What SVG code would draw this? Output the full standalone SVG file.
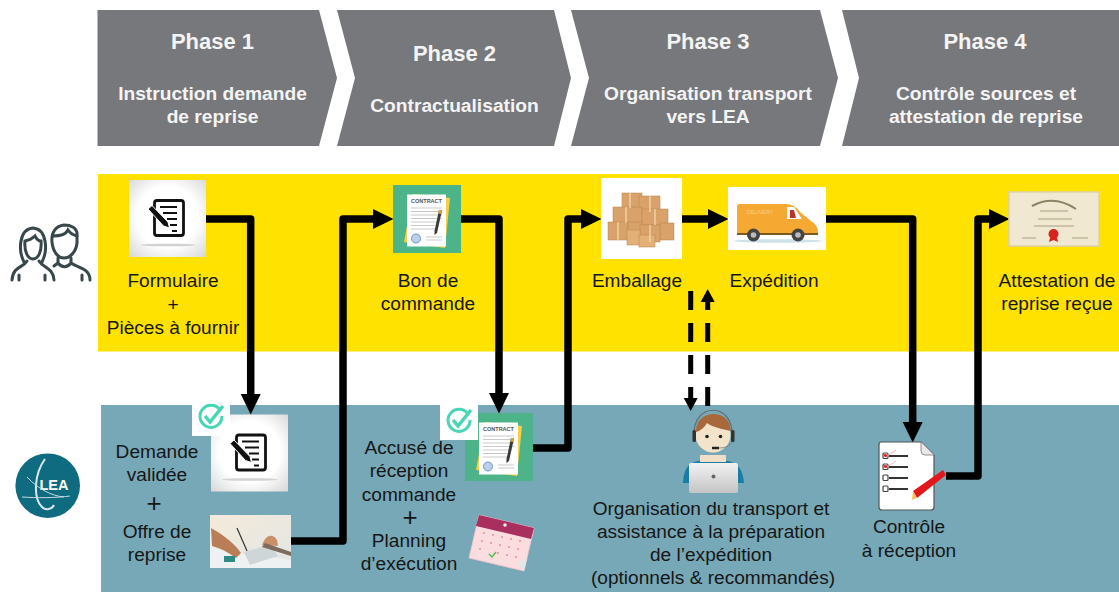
<svg xmlns="http://www.w3.org/2000/svg" width="1119" height="592" viewBox="0 0 1119 592">
<style>
text{font-family:"Liberation Sans",Arial,sans-serif;text-anchor:middle}
.h{font-weight:700;fill:#f4f4f4;font-size:19.2px}
.p{font-weight:700;fill:#f4f4f4;font-size:22px}
.l{fill:#161616;font-size:19.1px}
.big{fill:#161616;font-size:26px}
.c{fill:#77787b}
.wire{fill:none;stroke:#000;stroke-width:7.5;stroke-linejoin:round}
.dash{fill:none;stroke:#000;stroke-width:5;stroke-dasharray:19 13}
</style>
<defs>
<marker id="head" markerUnits="userSpaceOnUse" markerWidth="21" markerHeight="22" refX="0" refY="11" orient="auto"><path d="M0,1 L20.500,11 L0,21 Z" fill="#000"/></marker>
<marker id="headS" markerUnits="userSpaceOnUse" markerWidth="14" markerHeight="16" refX="0" refY="8" orient="auto"><path d="M0,1 L13,8 L0,15 Z" fill="#000"/></marker>
<radialGradient id="paper" cx="50%" cy="48%" r="72%"><stop offset="0.55" stop-color="#fff"/><stop offset="1" stop-color="#d6d6d6"/></radialGradient>
<linearGradient id="lap" x1="0" y1="0" x2="0" y2="1"><stop offset="0" stop-color="#f2f2f2"/><stop offset="1" stop-color="#c4c4c4"/></linearGradient>
<linearGradient id="desk" x1="0" y1="0" x2="1" y2="1"><stop offset="0" stop-color="#f5ead9"/><stop offset="1" stop-color="#e2e6e6"/></linearGradient>
<g id="formIcon">
<rect width="77" height="77" fill="url(#paper)"/>
<rect x="25.500" y="20.500" width="29" height="35" rx="2.500" fill="none" stroke="#111" stroke-width="2.800"/>
<path d="M31,27 H48 M34,33 H48 M38,39 H48 M41,45 H48 M43,51 H48" stroke="#111" stroke-width="2.200"/>
<path d="M19,29 L23,25.500 L39,42 L40.500,48 L34.500,46 Z" fill="#111" stroke="#fff" stroke-width="1"/>
<ellipse cx="39" cy="65" rx="28" ry="1.300" fill="#d2d2d2"/>
</g>
<g id="contractIcon">
<rect width="68" height="68" fill="#4db48a"/>
<path d="M20,9 L57,13 L52,63 L11,57 Z" fill="#f7cf45"/>
<rect x="14" y="9.500" width="39" height="52" fill="#fff"/>
<text x="33.500" y="18" style="font-size:5.500px;font-weight:700;fill:#555">CONTRACT</text>
<path d="M18,23 H49 M18,26.500 H49 M18,30 H49 M18,33.500 H49 M18,37 H44 M18,40.500 H42 M18,44 H42" stroke="#c9c9c9" stroke-width="1"/>
<circle cx="23" cy="53.500" r="4.500" fill="#bcd0ea" stroke="#6d94c9"/>
<path d="M33,52 H49 M33,55 H49" stroke="#c9c9c9" stroke-width="1"/>
<path d="M46,25 L49,25.500 L44,48 L41.500,50 L41.500,46 Z" fill="#3a3a3a"/>
<path d="M46,25 L49,25.500 L48.500,29 L45.500,28.500 Z" fill="#e0a526"/>
</g>
<g id="badge">
<rect width="38" height="40" fill="#fff"/>
<path d="M28,14 A11,11 0 1 0 30,20" fill="none" stroke="#48d6b4" stroke-width="3"/>
<path d="M13,20 L18,26 L31,10" fill="none" stroke="#48d6b4" stroke-width="3.500"/>
</g>
</defs>

<g id="phase-1"><path class="c" d="M97.500,10 H319 L337,78 L319,146 H97.500 Z"/><text class="p" x="212.500" y="49">Phase 1</text><text class="h" x="212.500" y="100">Instruction demande</text><text class="h" x="212.500" y="123">de reprise</text></g>
<g id="phase-2"><path class="c" d="M337,10 H554 L571,78 L554,146 H337 L355,78 Z"/><text class="p" x="454.500" y="61">Phase 2</text><text class="h" x="454.500" y="112">Contractualisation</text></g>
<g id="phase-3"><path class="c" d="M571,10 H820 L838,78 L820,146 H571 L589,78 Z"/><text class="p" x="708" y="49">Phase 3</text><text class="h" x="708" y="100">Organisation transport</text><text class="h" x="708" y="123">vers LEA</text></g>
<g id="phase-4"><path class="c" d="M842,10 H1119 V146 H842 L859,78 Z"/><text class="p" x="985" y="49">Phase 4</text><text class="h" x="986" y="100">Contrôle sources et</text><text class="h" x="986" y="123">attestation de reprise</text></g>

<rect id="band-client" x="98" y="174" width="1021" height="177.500" fill="#ffe200"/>
<rect id="band-lea" x="101" y="405" width="1018" height="187" fill="#76a8b8"/>

<g id="client-icon" fill="none" stroke="#37474a" stroke-width="3" stroke-linecap="round">
<path d="M24,262 C18,250 19,229 33,228 C47,229 48,250 42,262"/>
<path d="M25,241 C30,240 33,238 35,236 C37,240 40,241 41,241 C42,252 38,259 33,259 C28,259 24,252 25,241 Z"/>
<path d="M27,261 C23,268 13,266 12,280 M39,261 C43,268 53,267 54,280 M19,275 V280 M45,275 V280"/>
<path d="M52,242 C51,232 56,226 64,225 C71,225 77,228 77,234 L77,243 C76,252 70,258 64,258 C58,258 53,252 52,242 Z"/>
<path d="M53,236 C60,236 66,234 68,230 C70,233 73,235 77,236"/>
<path d="M58,258 L58,263 C62,268 67,268 71,263 L71,258 M71,263 C78,268 90,268 90,280 M58,263 L54,266 M82,275 V280"/>
</g>
<g id="lea-logo">
<circle cx="47.700" cy="485.700" r="32.300" fill="#0f6b80"/>
<text x="54" y="489.500" style="font-size:14.500px;font-weight:700;fill:#fff">LEA</text>
<path d="M45,459 C34,474 33,498 42,507 C46,511 52,509 54,505" fill="none" stroke="#d8e8ec" stroke-width="2"/>
<path d="M22,497 C36,498 56,498 70,496 M27,477 C38,489 52,496 64,497" fill="none" stroke="#c4dbe1" stroke-width="1"/>
</g>

<g id="connectors">
<path class="wire" d="M206,219 H250.700 V394" marker-end="url(#head)"/>
<path class="wire" d="M291,541 H343 V219 H373" marker-end="url(#head)"/>
<path class="wire" d="M461,219 H499 V393" marker-end="url(#head)"/>
<path class="wire" d="M533,448 H568 V219 H581" marker-end="url(#head)"/>
<path class="wire" d="M682,219 H708" marker-end="url(#head)"/>
<path class="wire" d="M826,219 H912.700 V422" marker-end="url(#head)"/>
<path class="wire" d="M946,476 H978 V219 H989" marker-end="url(#head)"/>
<path class="dash" d="M690.700,291 V398" marker-end="url(#headS)"/>
<path class="dash" d="M707.700,406 V302" marker-end="url(#headS)"/>
</g>

<g id="node-formulaire">
<use href="#formIcon" x="129" y="180"/>
<text class="l" x="173" y="287">Formulaire</text><text class="l" x="173" y="311">+</text><text class="l" x="173" y="334">Pièces à fournir</text>
</g>
<g id="node-bon-commande">
<use href="#contractIcon" x="393" y="185"/>
<text class="l" x="428" y="287">Bon de</text><text class="l" x="428" y="310">commande</text>
</g>
<g id="node-emballage">
<rect x="601" y="178" width="81" height="81" fill="#fff"/>
<g fill="#d8a26a" stroke="#b98450" stroke-width="0.500">
<rect x="622" y="193" width="20" height="15"/><rect x="639" y="196" width="21" height="16"/><rect x="613" y="207" width="29" height="16"/><rect x="642" y="209" width="26" height="16"/><rect x="608" y="222" width="20" height="18"/><rect x="628" y="222" width="14" height="10"/><rect x="660" y="223" width="14" height="17"/><rect x="640" y="225" width="20" height="17"/><rect x="627" y="230" width="13" height="15" fill="#e3b078"/><rect x="639" y="235" width="16" height="12" fill="#e3b078"/>
</g>
<path d="M630,193 V208 M650,196 V212 M626,207 V223 M655,209 V225 M618,222 V240 M650,225 V242" stroke="#efcfa6" stroke-width="1.500"/>
<text class="l" x="637" y="287">Emballage</text>
</g>
<g id="node-expedition">
<rect x="728" y="187" width="98" height="63" fill="#fff"/>
<ellipse cx="778" cy="241" rx="44" ry="1.800" fill="#cfe2ea"/>
<path d="M737,207 Q737,204 740,204 H786 Q794,204 800,212 L811,221 Q818,225 818,232 V235 H737 Z" fill="#f5a832"/>
<path d="M737,233 H818 V235 H737 Z" fill="#7a5a20"/>
<path d="M787,207 H794 L802,219 H787 Z" fill="#fff"/>
<path d="M790,210 h4 l2,8 h-6 z" fill="#b8352b"/>
<circle cx="753.500" cy="235" r="6.500" fill="#444"/><circle cx="753.500" cy="235" r="2.800" fill="#bbb"/>
<circle cx="798" cy="235" r="6.500" fill="#444"/><circle cx="798" cy="235" r="2.800" fill="#bbb"/>
<text x="760" y="214" style="font-size:5.500px;fill:#f9cf85">DELIVERY</text>
<text class="l" x="774" y="287">Expédition</text>
</g>
<g id="node-attestation">
<rect x="1009" y="192" width="90" height="54" fill="#f0e8d0" stroke="#ddd0ae" stroke-width="1.500"/>
<path d="M1032,206 Q1054,194 1076,209" fill="none" stroke="#8b8468" stroke-width="2"/>
<path d="M1040,211 H1068 M1038,219 H1072 M1034,226 H1074 M1022,238 H1036 M1072,238 H1088" stroke="#a89f82" stroke-width="1"/>
<circle cx="1053.500" cy="234" r="5" fill="#d9231f"/><path d="M1050,238 L1049,242 L1053.500,240 L1058,242 L1057,238" fill="#d9231f"/>
<text class="l" x="1057" y="287">Attestation de</text><text class="l" x="1057" y="310">reprise reçue</text>
</g>

<g id="node-demande">
<use href="#formIcon" x="211" y="414.500"/>
<use href="#badge" x="192" y="396"/>
<text class="l" x="157" y="458">Demande</text><text class="l" x="157" y="481">validée</text><text class="big" x="154" y="512">+</text><text class="l" x="157" y="538">Offre de</text><text class="l" x="157" y="561">reprise</text>
</g>
<g id="node-offre">
<rect x="210" y="515" width="81" height="53" fill="url(#desk)"/>
<path d="M210,530 L235,552 L291,560 V568 H210 Z" fill="#eef1f1"/>
<path d="M211,528 C218,532 232,540 241,553 L236,558 C228,552 220,548 212,546 Z" fill="#b97e56"/>
<path d="M237,528 L247,551" stroke="#333" stroke-width="1.200"/>
<path d="M262,545 C266,535 272,533 277,540 L278,546 Z" fill="#c98f68"/>
<path d="M244,552 L270,545 L278,556 L250,565 Z" fill="#cfd6d8"/>
<path d="M265,543 L291,552 V556 L262,547 Z" fill="#7d6c5d"/>
<rect x="224" y="556" width="11" height="6" fill="#2f8a84"/>
</g>
<g id="node-accuse">
<use href="#contractIcon" x="465" y="413"/>
<use href="#badge" x="440" y="400"/>
<text class="l" x="409" y="454">Accusé de</text><text class="l" x="409" y="477">réception</text><text class="l" x="409" y="501">commande</text><text class="big" x="410" y="526">+</text><text class="l" x="409" y="547">Planning</text><text class="l" x="409" y="570">d’exécution</text>
</g>
<g id="node-planning">
<path d="M479,515 L534,528 L524,571 L469,558 Z" fill="#fbdde0" stroke="#f4c3c8" stroke-width="0.800"/>
<path d="M479,515 L534,528 L531,539 L476,526 Z" fill="#a92f5e"/>
<circle cx="505" cy="525" r="1.800" fill="#eee"/>
<g fill="#e58c98"><circle cx="482" cy="541" r="1"/><circle cx="491" cy="543" r="1"/><circle cx="500" cy="545" r="1"/><circle cx="509" cy="547" r="1"/><circle cx="518" cy="549" r="1"/><circle cx="480" cy="549" r="1"/><circle cx="498" cy="553" r="1"/><circle cx="507" cy="555" r="1"/><circle cx="516" cy="557" r="1"/><circle cx="484" cy="533" r="1"/><circle cx="493" cy="535" r="1"/><circle cx="502" cy="537" r="1"/><circle cx="511" cy="539" r="1"/><circle cx="520" cy="541" r="1"/></g>
<path d="M489,554 L492,557 L496,552" fill="none" stroke="#55c04f" stroke-width="1.500"/>
<path d="M524,571 L516,563 L527,558 Z" fill="#e6e6e6"/>
</g>
<g id="node-organisation">
<path d="M683,483 C684,463 692,460 713,460 C734,460 742,463 744,483 Z" fill="#1a7da3"/>
<path d="M700,455 H726 V462 H700 Z" fill="#f0dfc6"/>
<circle cx="713" cy="435" r="17.500" fill="#f3e3cb"/>
<path d="M696,432 C696,418 707,414 714,414 C722,414 730,419 731,431 C722,429 712,427 707,423 C704,428 700,431 696,432 Z" fill="#a8683c"/>
<path d="M694,435 C693,402 733,402 732,435" fill="none" stroke="#5f6d70" stroke-width="1.200"/>
<rect x="692.500" y="430" width="3.500" height="12" rx="1.500" fill="#333"/><rect x="731" y="430" width="3.500" height="12" rx="1.500" fill="#333"/>
<circle cx="707" cy="436.500" r="1.800" fill="#222"/><circle cx="720.500" cy="436.500" r="1.800" fill="#222"/>
<path d="M712,448 H719" stroke="#222" stroke-width="2.500"/><path d="M719,448 C725,448 730,446 732,442" fill="none" stroke="#777" stroke-width="0.800"/>
<rect x="689" y="463" width="49" height="30" rx="2" fill="url(#lap)"/>
<circle cx="713.500" cy="476.500" r="2" fill="#666"/>
<text class="l" x="711" y="515">Organisation du transport et</text><text class="l" x="711" y="538">assistance à la préparation</text><text class="l" x="711" y="561">de l’expédition</text><text class="l" x="713" y="584">(optionnels &amp; recommandés)</text>
</g>
<g id="node-controle">
<path d="M881,442 H921 L934,455 V507 Q934,510 931,510 H882 Q879,510 879,507 V445 Q879,442 881,442 Z" fill="#fff" stroke="#555" stroke-width="1.200"/>
<path d="M921,442 V451 Q921,455 925,455 H934" fill="#e8e8e8" stroke="#777" stroke-width="0.800"/>
<path d="M889,456 H908 M889,467 H908 M889,478 H908 M889,489 H908" stroke="#333" stroke-width="1.800"/>
<g fill="#fff" stroke="#444" stroke-width="1.200"><rect x="883" y="453" width="5" height="5.500" rx="1"/><rect x="883" y="464" width="5" height="5.500" rx="1"/><rect x="883" y="475" width="5" height="5.500" rx="1"/><rect x="883" y="486" width="5" height="5.500" rx="1"/></g>
<path d="M884,455 L887,456 M884,466 L887,467" stroke="#e02020" stroke-width="2.500"/>
<path d="M887,456 L896,450 M887,467 L896,461" stroke="#f6a8a8" stroke-width="0.800"/>
<path d="M943,470 L946,475 L917,498 L913,491 Z" fill="#e0181c"/>
<path d="M917,498 L913,491 L912,500 Z" fill="#f3c25a"/>
<text class="l" x="909" y="533">Contrôle</text><text class="l" x="909" y="557">à réception</text>
</g>
</svg>
